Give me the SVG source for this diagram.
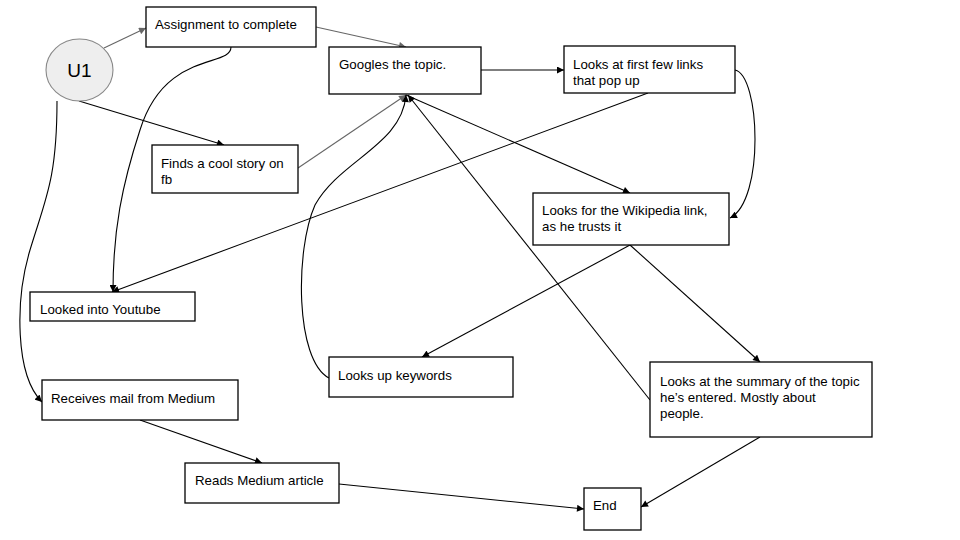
<svg xmlns="http://www.w3.org/2000/svg" width="960" height="540" viewBox="0 0 960 540">
<defs>
<style>
.box{fill:#fff;stroke:#000;stroke-width:1.3}
.t{font-family:"Liberation Sans",Arial,sans-serif;font-size:13.3px;fill:#000}
.big{font-size:19px}
.c{fill:none;stroke:#000;stroke-width:1.1}
.g{fill:none;stroke:#666;stroke-width:1.1}
</style>
<marker id="ab" viewBox="0 0 10 10" refX="10" refY="5" markerWidth="8" markerHeight="7" markerUnits="userSpaceOnUse" orient="auto"><path d="M0,0 L10,5 L0,10 z" fill="#000"/></marker>
<marker id="ag" viewBox="0 0 10 10" refX="10" refY="5" markerWidth="8" markerHeight="7" markerUnits="userSpaceOnUse" orient="auto"><path d="M0,0 L10,5 L0,10 z" fill="#666"/></marker>
</defs>
<rect width="960" height="540" fill="#fff"/>
<g id="connectors">
<path class="g" d="M104,48 L146,28" marker-end="url(#ag)"/>
<path class="g" d="M316,27 L406,47" marker-end="url(#ag)"/>
<path class="g" d="M298,168 L406,95" marker-end="url(#ag)"/>
<path class="c" d="M79,101 L224,145" marker-end="url(#ab)"/>
<path class="c" d="M481,70 L564,70" marker-end="url(#ab)"/>
<path class="c" d="M648,93 L112,292" marker-end="url(#ab)"/>
<path class="c" d="M231,47 C231,68 165,50 140,130 C122,185 113,230 113,292" marker-end="url(#ab)"/>
<path class="c" d="M57,101 C57,180 45,200 30,250 C15,300 15,375 42,402" marker-end="url(#ab)"/>
<path class="c" d="M406,95 L630,193" marker-end="url(#ab)"/>
<path class="c" d="M630,245 L422,357" marker-end="url(#ab)"/>
<path class="c" d="M630,245 L760,362" marker-end="url(#ab)"/>
<path class="c" d="M650,400 L408,95" marker-end="url(#ab)"/>
<path class="c" d="M329,378 C295,360 295,250 315,205 C340,160 402,145 406,95" marker-end="url(#ab)"/>
<path class="c" d="M735,70 C760,75 765,200 730,218" marker-end="url(#ab)"/>
<path class="c" d="M760,437 L641,507" marker-end="url(#ab)"/>
<path class="c" d="M339,484 L584,509" marker-end="url(#ab)"/>
<path class="c" d="M140,420 L262,463" marker-end="url(#ab)"/>
</g>
<g id="u1"><ellipse cx="79.5" cy="70" rx="33.5" ry="31" fill="#eeeeee" stroke="#888" stroke-width="1.1"/><text class="t big" x="79.5" y="77" text-anchor="middle">U1</text></g>
<g id="assignment"><rect class="box" x="146" y="7" width="170" height="40"/><text class="t" x="155" y="29">Assignment to complete</text></g>
<g id="googles"><rect class="box" x="329" y="47" width="152" height="47"/><text class="t" x="339" y="69">Googles the topic.</text></g>
<g id="firstlinks"><rect class="box" x="564" y="46" width="171" height="47"/><text class="t" x="573" y="69">Looks at first few links</text><text class="t" x="573" y="85">that pop up</text></g>
<g id="wikipedia"><rect class="box" x="533" y="193" width="196" height="52"/><text class="t" x="542" y="215">Looks for the Wikipedia link,</text><text class="t" x="542" y="231">as he trusts it</text></g>
<g id="coolstory"><rect class="box" x="152" y="145" width="146" height="48"/><text class="t" x="161" y="168">Finds a cool story on</text><text class="t" x="161" y="184">fb</text></g>
<g id="youtube"><rect class="box" x="30" y="292" width="165" height="29"/><text class="t" x="40" y="314">Looked into Youtube</text></g>
<g id="keywords"><rect class="box" x="329" y="357" width="184" height="40"/><text class="t" x="338" y="380">Looks up keywords</text></g>
<g id="mail"><rect class="box" x="42" y="380" width="196" height="40"/><text class="t" x="51" y="403">Receives mail from Medium</text></g>
<g id="reads"><rect class="box" x="185" y="463" width="154" height="40"/><text class="t" x="195" y="485">Reads Medium article</text></g>
<g id="summary"><rect class="box" x="650" y="362" width="222" height="75"/><text class="t" x="660" y="386">Looks at the summary of the topic</text><text class="t" x="660" y="402">he’s entered. Mostly about</text><text class="t" x="660" y="418">people.</text></g>
<g id="end"><rect class="box" x="584" y="488" width="57" height="42"/><text class="t" x="593" y="510">End</text></g>
</svg>
